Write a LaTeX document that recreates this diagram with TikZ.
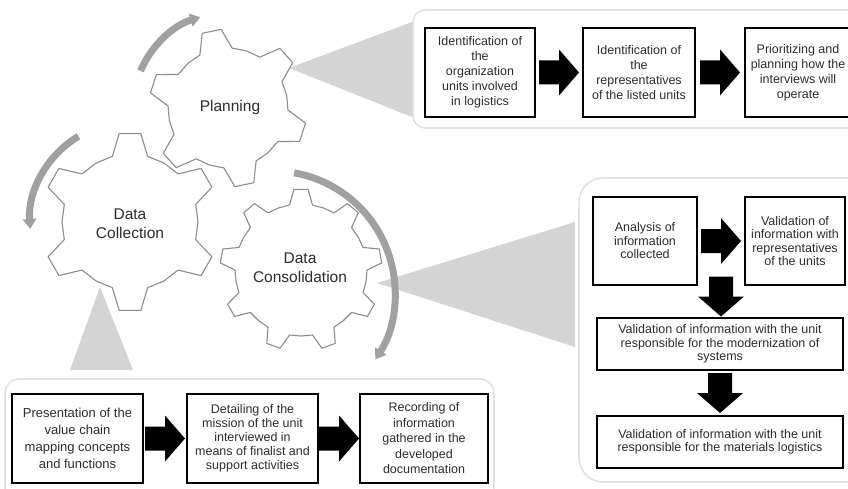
\documentclass[tikz,border=0pt]{standalone}
\usepackage{fontspec}
\setmainfont{Liberation Sans}
\usetikzlibrary{arrows.meta,calc}

\definecolor{geargray}{RGB}{140,140,140}
\definecolor{arcgray}{RGB}{160,160,160}
\definecolor{wedgegray}{RGB}{212,212,212}
\definecolor{panelline}{RGB}{226,226,226}
\definecolor{txt}{RGB}{45,45,45}

% gear outline: centre x, centre y, teeth, root radius, tip radius, phase, half tip angle, half root angle
\newcommand\gearoutline[8]{%
  \begin{scope}[shift={(#1,#2)}]
    \draw[gearline] ({#6+360/#3-#8}:#4pt)
      \foreach \k in {1,...,#3} {
        -- ({#6+\k*360/#3-#8}:#4pt)
        -- ({#6+\k*360/#3-#7}:#5pt)
        -- ({#6+\k*360/#3+#7}:#5pt)
        -- ({#6+\k*360/#3+#8}:#4pt)
        -- ({#6+\k*360/#3+180/#3}:#4pt)
      } -- cycle;
  \end{scope}}

\begin{document}
\begin{tikzpicture}[x=1pt,y=1pt,
  gearline/.style={draw=geargray, line width=1.1pt, fill=white, line join=round},
  turnarrow/.style={draw=arcgray, line width=7pt, -{Triangle[length=10pt,width=13pt]}},
  wedge/.style={fill=wedgegray},
  panel/.style={draw=panelline, line width=1.6pt, fill=white},
  stepbox/.style={draw=black, line width=1.4pt, fill=white, align=center, text=txt, inner sep=0pt},
  gearlabel/.style={font=\fontsize{15.5}{19}\selectfont, text=txt, align=center},
  blockarrow/.pic={\fill[black] (-20,12) -- (0,12) -- (0,23) -- (20,0) -- (0,-23) -- (0,-12) -- (-20,-12) -- cycle;}
]
\useasboundingbox (0,0) rectangle (848,-489);
\clip (0,0) rectangle (848,-489);

% background panels
\draw[panel, rounded corners=12pt] (413,-10) rectangle (870,-128);
\draw[panel, rounded corners=24pt] (579,-178) rectangle (880,-482);
\draw[panel, rounded corners=14pt] (5,-379) rectangle (494,-520);

% callout wedges
\fill[wedge] (289,-68) -- (412,-22) -- (412,-117) -- cycle;
\fill[wedge] (377,-283) -- (575,-222) -- (575,-347) -- cycle;
\fill[wedge] (100,-287) -- (70,-370) -- (133,-370) -- cycle;

% gears
\gearoutline{228}{-108}{6}{60}{79}{102}{7}{16}
\gearoutline{130}{-222}{6}{68}{89}{90}{7}{15}
\gearoutline{301}{-270}{9}{66}{81}{90}{5}{10}

% rotation arrows
\draw[turnarrow] ([shift={(228,-108)}]157:95pt) arc[start angle=157, end angle=107, radius=95pt];
\draw[turnarrow] ([shift={(130,-222)}]121:100pt) arc[start angle=121, end angle=184, radius=100pt];
\draw[turnarrow] ([shift={(273,-293)}]80:122pt) arc[start angle=80, end angle=-33, radius=122pt];

% gear labels
\node[gearlabel] (plan) at (230,-107) {Planning};
\node[gearlabel] (coll) at (130,-224) {Data\\Collection};
\node[gearlabel] (cons) at (300,-268) {Data\\Consolidation};

% planning steps
\begin{scope}[every node/.append style={font=\fontsize{12.5}{15}\selectfont}]
\node[stepbox, minimum width=110pt, minimum height=89pt] (t1) at (480,-72.5)
  {Identification of\\the\\organization\\units involved\\in logistics};
\node[stepbox, minimum width=112pt, minimum height=89pt] (t2) at (639,-72.5)
  {Identification of\\the\\representatives\\of the listed units};
\node[stepbox, minimum width=106pt, minimum height=89pt] (t3) at (798,-72.5)
  {Prioritizing and\\planning how the\\interviews will\\operate};
\end{scope}
\pic at ($(t1.east)!.5!(t2.west)$) {blockarrow};
\pic at ($(t2.east)!.5!(t3.west)$) {blockarrow};

% consolidation steps
\begin{scope}[every node/.append style={font=\fontsize{12.5}{13.5}\selectfont}]
\node[stepbox, minimum width=104pt, minimum height=88pt] (ra) at (645,-241)
  {Analysis of\\information\\collected};
\node[stepbox, minimum width=100pt, minimum height=88pt] (rb) at (795,-241)
  {Validation of\\information with\\representatives\\of the units};
\node[stepbox, minimum width=246pt, minimum height=52pt] (rc) at (720,-344)
  {Validation of information with the unit\\responsible for the modernization of\\systems};
\node[stepbox, minimum width=246pt, minimum height=52pt] (rd) at (720,-442)
  {Validation of information with the unit\\responsible for the materials logistics};
\end{scope}
\coordinate (gapab) at ($(ra.east)!.5!(rb.west)$);
\pic at (gapab) {blockarrow};
\coordinate (dn1) at ($(gapab |- ra.south)!.5!(gapab |- rc.north) + (0,5)$);
\pic[rotate=-90] at (dn1) {blockarrow};
\pic[rotate=-90] at ($(rc.south)!.5!(rd.north)$) {blockarrow};

% collection steps
\node[stepbox, font=\fontsize{13}{17}\selectfont, minimum width=131pt, minimum height=89pt] (b1) at (77.5,-438.5)
  {Presentation of the\\value chain\\mapping concepts\\and functions};
\node[stepbox, font=\fontsize{12.5}{14}\selectfont, minimum width=131pt, minimum height=89pt] (b2) at (252.5,-438.5)
  {Detailing of the\\mission of the unit\\interviewed in\\means of finalist and\\support activities};
\node[stepbox, font=\fontsize{12.5}{15.5}\selectfont, minimum width=128pt, minimum height=89pt] (b3) at (424,-438.5)
  {Recording of\\information\\gathered in the\\developed\\documentation};
\pic at ($(b1.east)!.5!(b2.west)$) {blockarrow};
\pic at ($(b2.east)!.5!(b3.west)$) {blockarrow};
\end{tikzpicture}
\end{document}
